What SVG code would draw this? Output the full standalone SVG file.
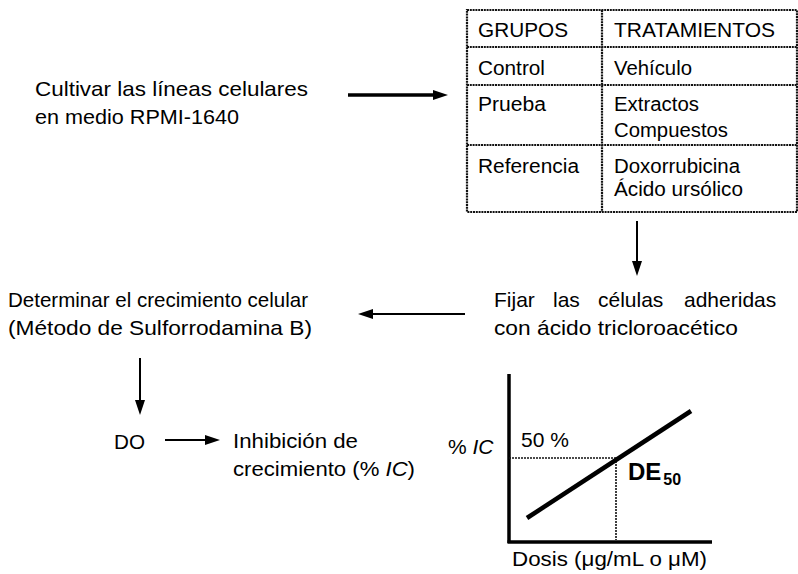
<svg xmlns="http://www.w3.org/2000/svg" width="798" height="574" viewBox="0 0 798 574">
<style>
text{font-family:"Liberation Sans",Arial,sans-serif;fill:#000}
.t{font-size:21px}
.tb{font-size:20px}
.ln{stroke:#000;fill:none}
.dot{stroke:#111;fill:none;stroke-width:2.2;stroke-dasharray:2 0.8}
.dot2{stroke:#111;fill:none;stroke-width:1.6;stroke-dasharray:2 1}
</style>
<defs>
<marker id="ah" markerUnits="userSpaceOnUse" markerWidth="16" markerHeight="12" refX="0" refY="5" orient="auto">
<path d="M0,0 L15,5 L0,10 z" fill="#000"/>
</marker>
</defs>
<rect width="798" height="574" fill="#fff"/>

<g id="cultivar">
<text class="t" x="35" y="96" textLength="273" lengthAdjust="spacingAndGlyphs">Cultivar las líneas celulares</text>
<text class="t" x="35" y="124" textLength="204" lengthAdjust="spacingAndGlyphs">en medio RPMI-1640</text>
</g>

<g id="tabla">
<rect x="467" y="10" width="330" height="202" class="dot"/>
<line x1="467" y1="47" x2="797" y2="47" class="dot"/>
<line x1="467" y1="85" x2="797" y2="85" class="dot"/>
<line x1="467" y1="145" x2="797" y2="145" class="dot"/>
<line x1="602" y1="10" x2="602" y2="212" class="dot"/>
<text class="tb" x="478" y="37" textLength="90" lengthAdjust="spacingAndGlyphs">GRUPOS</text>
<text class="tb" x="614" y="37" textLength="161" lengthAdjust="spacingAndGlyphs">TRATAMIENTOS</text>
<text class="tb" x="478" y="75" textLength="67" lengthAdjust="spacingAndGlyphs">Control</text>
<text class="tb" x="614" y="75" textLength="78" lengthAdjust="spacingAndGlyphs">Vehículo</text>
<text class="tb" x="478" y="111" textLength="68" lengthAdjust="spacingAndGlyphs">Prueba</text>
<text class="tb" x="614" y="111" textLength="85" lengthAdjust="spacingAndGlyphs">Extractos</text>
<text class="tb" x="614" y="137" textLength="114" lengthAdjust="spacingAndGlyphs">Compuestos</text>
<text class="tb" x="478" y="173" textLength="101" lengthAdjust="spacingAndGlyphs">Referencia</text>
<text class="tb" x="614" y="173" textLength="126" lengthAdjust="spacingAndGlyphs">Doxorrubicina</text>
<text class="tb" x="614" y="196" textLength="129" lengthAdjust="spacingAndGlyphs">Ácido ursólico</text>
</g>

<g id="fijar">
<text class="t" y="307"><tspan x="494">Fijar</tspan><tspan x="553">las</tspan><tspan x="598">células</tspan><tspan x="684">adheridas</tspan></text>
<text class="t" x="494" y="335" textLength="244" lengthAdjust="spacingAndGlyphs">con ácido tricloroacético</text>
</g>

<g id="determinar">
<text class="t" x="8" y="307" textLength="300" lengthAdjust="spacingAndGlyphs">Determinar el crecimiento celular</text>
<text class="t" x="8" y="335" textLength="304" lengthAdjust="spacingAndGlyphs">(Método de Sulforrodamina B)</text>
</g>

<g id="do">
<text class="t" x="114" y="449" textLength="31" lengthAdjust="spacingAndGlyphs">DO</text>
</g>

<g id="inhibicion">
<text class="t" x="233" y="448" textLength="125" lengthAdjust="spacingAndGlyphs">Inhibición de</text>
<text class="t" x="233" y="476" textLength="182" lengthAdjust="spacingAndGlyphs">crecimiento (% <tspan font-style="italic">IC</tspan>)</text>
</g>

<g id="grafica">
<line x1="509" y1="374" x2="509" y2="543" class="ln" stroke-width="3.5"/>
<line x1="507.5" y1="542" x2="712" y2="542" class="ln" stroke-width="3.5"/>
<line x1="509" y1="458" x2="616" y2="458" class="dot2"/>
<line x1="616" y1="458" x2="616" y2="540" class="dot2"/>
<line x1="527" y1="518" x2="691" y2="411" class="ln" stroke-width="4.5"/>
<text class="t" x="448" y="454">% <tspan font-style="italic">IC</tspan></text>
<text class="t" x="521" y="447">50 %</text>
<text x="628" y="480" font-size="24" font-weight="bold">DE<tspan font-size="16" dy="5" dx="2">50</tspan></text>
<text class="t" x="512" y="566" textLength="195" lengthAdjust="spacingAndGlyphs">Dosis (μg/mL o μM)</text>
</g>

<g id="conectores">
<line x1="348" y1="95" x2="433" y2="95" class="ln" stroke-width="3.5" marker-end="url(#ah)"/>
<line x1="637" y1="221" x2="637" y2="261" class="ln" stroke-width="2" marker-end="url(#ah)"/>
<line x1="465" y1="314" x2="373" y2="314" class="ln" stroke-width="2" marker-end="url(#ah)"/>
<line x1="140" y1="358" x2="140" y2="400" class="ln" stroke-width="2" marker-end="url(#ah)"/>
<line x1="165" y1="440" x2="205" y2="440" class="ln" stroke-width="2" marker-end="url(#ah)"/>
</g>
</svg>
